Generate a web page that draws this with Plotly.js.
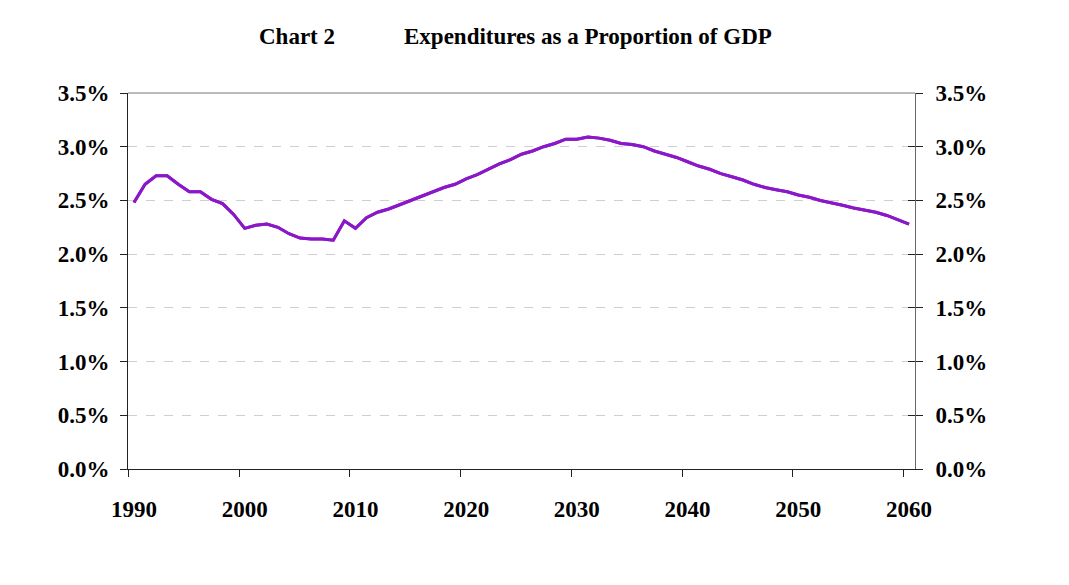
<!DOCTYPE html>
<html>
<head>
<meta charset="utf-8">
<script src="https://cdn.plot.ly/plotly-3.0.1.min.js"></script>
<style>html,body{margin:0;padding:0;background:#fff;}#chart{width:1069px;height:585px;}</style>
</head>
<body>
<div id="chart"></div>
<script>
const years = [];
for (let y = 1990; y <= 2060; y++) years.push(y);
const expenditurePct = [
  2.48, 2.65, 2.73, 2.73, 2.65, 2.58, 2.58, 2.51, 2.47, 2.37,
  2.24, 2.27, 2.28, 2.25, 2.19, 2.15, 2.14, 2.14, 2.13, 2.31,
  2.24, 2.34, 2.39, 2.42, 2.46, 2.50, 2.54, 2.58, 2.62, 2.65,
  2.70, 2.74, 2.79, 2.84, 2.88, 2.93, 2.96, 3.00, 3.03, 3.07,
  3.07, 3.09, 3.08, 3.06, 3.03, 3.02, 3.00, 2.96, 2.93, 2.90,
  2.86, 2.82, 2.79, 2.75, 2.72, 2.69, 2.65, 2.62, 2.60, 2.58,
  2.55, 2.53, 2.50, 2.48, 2.455, 2.43, 2.41, 2.39, 2.36, 2.32,
  2.28
];
const xLabelYears = [1990, 2000, 2010, 2020, 2030, 2040, 2050, 2060];
const xTickMarks = [1989.5, 1999.5, 2009.5, 2019.5, 2029.5, 2039.5, 2049.5, 2059.5];
const yTicks = [0, 0.5, 1.0, 1.5, 2.0, 2.5, 3.0, 3.5];
const yTickText = ['0.0%', '0.5%', '1.0%', '1.5%', '2.0%', '2.5%', '3.0%', '3.5%'];
const chartTitle = 'Chart 2';
const chartSubtitle = 'Expenditures as a Proportion of GDP';

const font = {family: 'Liberation Serif, Times New Roman, serif', size: 23, color: '#000', weight: 'bold'};
const xr = [1989.46, 2060.54];
const lineStyle = {color: '#8A18C8', width: 3};

const data = [
  {x: years, y: expenditurePct, type: 'scatter', mode: 'lines',
   line: lineStyle, hoverinfo: 'x+y', showlegend: false},
  {x: years, y: expenditurePct, type: 'scatter', mode: 'lines', xaxis: 'x2', yaxis: 'y2',
   line: lineStyle, hoverinfo: 'skip', showlegend: false}
];

const layout = {
  width: 1069, height: 585,
  margin: {l: 128, r: 154, t: 93, b: 116},
  paper_bgcolor: '#fff', plot_bgcolor: '#fff',
  showlegend: false,
  xaxis: {
    range: xr, tickvals: xLabelYears, ticktext: xLabelYears.map(String),
    ticks: '', showgrid: false, zeroline: false,
    showline: true, linecolor: '#222', linewidth: 1,
    tickfont: font, ticklabelstandoff: 19
  },
  xaxis2: {
    range: xr, overlaying: 'x', anchor: 'y2', side: 'bottom',
    tickvals: xTickMarks, ticks: 'outside', ticklen: 7, tickcolor: '#222',
    showticklabels: false, showgrid: false, zeroline: false, showline: false
  },
  yaxis: {
    range: [0, 3.5], tickvals: yTicks, ticktext: yTickText,
    ticks: 'outside', ticklen: 7, tickcolor: '#222',
    showline: true, linecolor: '#222', linewidth: 1, mirror: 'ticks',
    showgrid: true, gridcolor: '#cfcfcf', griddash: 'dash', gridwidth: 1,
    zeroline: false, tickfont: font, ticklabelstandoff: 6
  },
  yaxis2: {
    range: [0, 3.5], overlaying: 'y', side: 'right', anchor: 'x2',
    tickvals: yTicks, ticktext: yTickText,
    ticks: 'inside', ticklen: 7, tickcolor: '#222',
    showline: true, linecolor: '#666', linewidth: 1,
    showgrid: false, zeroline: false, tickfont: font, ticklabelstandoff: 15
  },
  shapes: [{
    type: 'line', xref: 'paper', yref: 'paper', x0: 0, x1: 1, y0: 1, y1: 1,
    line: {color: '#777', width: 1}
  }],
  annotations: [
    {text: chartTitle, xref: 'paper', yref: 'paper', x: 0.2153, y: 1.149,
     xanchor: 'center', yanchor: 'middle', showarrow: false, font: font},
    {text: chartSubtitle, xref: 'paper', yref: 'paper', x: 0.5845, y: 1.149,
     xanchor: 'center', yanchor: 'middle', showarrow: false, font: font}
  ]
};

Plotly.newPlot('chart', data, layout, {displayModeBar: false, staticPlot: true});
</script>
</body>
</html>
